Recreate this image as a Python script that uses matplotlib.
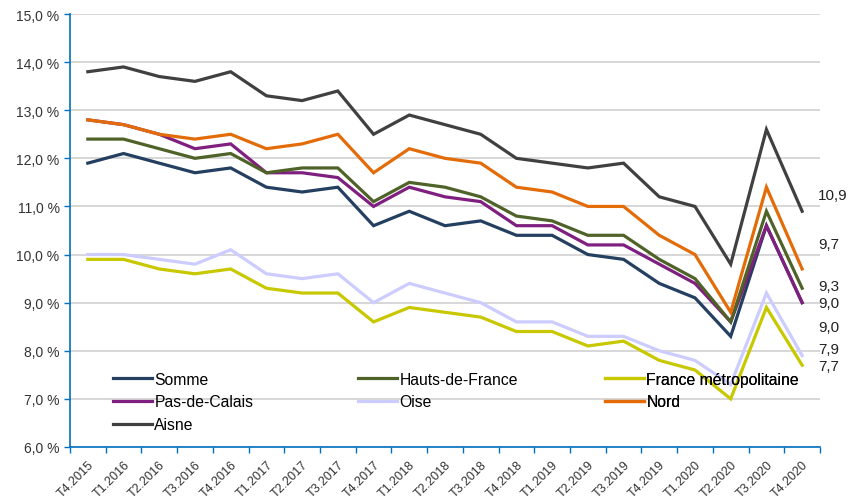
import matplotlib.pyplot as plt
import numpy as np

plt.rcParams['font.family'] = ['Liberation Sans', 'DejaVu Sans']

quarters = ['T4.2015',
            'T1.2016', 'T2.2016', 'T3.2016', 'T4.2016',
            'T1.2017', 'T2.2017', 'T3.2017', 'T4.2017',
            'T1.2018', 'T2.2018', 'T3.2018', 'T4.2018',
            'T1.2019', 'T2.2019', 'T3.2019', 'T4.2019',
            'T1.2020', 'T2.2020', 'T3.2020', 'T4.2020']

somme = [11.9, 12.1, 11.9, 11.7, 11.8, 11.4, 11.3, 11.4, 10.6, 10.9, 10.6,
         10.7, 10.4, 10.4, 10.0, 9.9, 9.4, 9.1, 8.3, 10.6, 9.0]
hdf = [12.4, 12.4, 12.2, 12.0, 12.1, 11.7, 11.8, 11.8, 11.1, 11.5, 11.4,
       11.2, 10.8, 10.7, 10.4, 10.4, 9.9, 9.5, 8.6, 10.9, 9.3]
france = [9.9, 9.9, 9.7, 9.6, 9.7, 9.3, 9.2, 9.2, 8.6, 8.9, 8.8,
          8.7, 8.4, 8.4, 8.1, 8.2, 7.8, 7.6, 7.0, 8.9, 7.7]
pdc = [12.8, 12.7, 12.5, 12.2, 12.3, 11.7, 11.7, 11.6, 11.0, 11.4, 11.2,
       11.1, 10.6, 10.6, 10.2, 10.2, 9.8, 9.4, 8.6, 10.6, 9.0]
oise = [10.0, 10.0, 9.9, 9.8, 10.1, 9.6, 9.5, 9.6, 9.0, 9.4, 9.2,
        9.0, 8.6, 8.6, 8.3, 8.3, 8.0, 7.8, 7.3, 9.2, 7.9]
nord = [12.8, 12.7, 12.5, 12.4, 12.5, 12.2, 12.3, 12.5, 11.7, 12.2, 12.0,
        11.9, 11.4, 11.3, 11.0, 11.0, 10.4, 10.0, 8.8, 11.4, 9.7]
aisne = [13.8, 13.9, 13.7, 13.6, 13.8, 13.3, 13.2, 13.4, 12.5, 12.9, 12.7,
         12.5, 12.0, 11.9, 11.8, 11.9, 11.2, 11.0, 9.8, 12.6, 10.9]

# (name, values, colour, end label pixel offset)
series = [
    ('Somme', somme, '#243f60', -24),
    ('Hauts-de-France', hdf, '#4f6228', 2),
    ('France métropolitaine', france, '#c8c800', -1),
    ('Pas-de-Calais', pdc, '#7f1f7f', 0),
    ('Oise', oise, '#ccccff', 7),
    ('Nord', nord, '#e36c09', 25),
    ('Aisne', aisne, '#404040', 16),
]

fig = plt.figure(figsize=(8.68, 5.02), dpi=100)
ax = fig.add_axes([0.0806, 0.1076, 0.8641, 0.8625])

x = np.arange(len(quarters))
lines = {}
# light lines first so the dark ones sit on top
for name, vals, col, off in [series[4], series[2], series[0], series[3],
                             series[1], series[5], series[6]]:
    lines[name], = ax.plot(x, vals, color=col, lw=2.3, solid_joinstyle='miter',
                           label=name, zorder=3)

for name, vals, col, off in series:
    ax.annotate(f'{vals[-1]:.1f}'.replace('.', ','), (x[-1], vals[-1]),
                xytext=(16, off), textcoords='offset pixels',
                ha='left', va='center', fontsize=11, color='#222222',
                annotation_clip=False)

ax.set_xlim(-0.5, len(quarters) - 0.5)
ax.set_ylim(6, 15)
ax.set_yticks(np.arange(6, 15.1, 1))
ax.set_yticklabels([f'{v:.1f} %'.replace('.', ',') for v in np.arange(6, 15.1, 1)],
                   fontsize=10, color='#333333')
ax.yaxis.grid(True, color='#d4d4d4', lw=1.3)
ax.set_axisbelow(True)

ax.set_xticks(x)
ax.set_xticklabels(quarters, rotation=45, ha='right', rotation_mode='anchor',
                   fontsize=9, color='#333333')
ax.set_xticks(np.arange(-0.5, len(quarters)), minor=True)
ax.tick_params(axis='x', which='major', length=0, pad=8)
ax.tick_params(axis='x', which='minor', length=4, color='#0070c0', width=1)
ax.tick_params(axis='y', length=4, color='#0070c0', width=1)

for s in ['top', 'right']:
    ax.spines[s].set_visible(False)
for s in ['left', 'bottom']:
    ax.spines[s].set_color('#0070c0')
    ax.spines[s].set_linewidth(1.2)

legend_cols = [
    (['Somme', 'Pas-de-Calais', 'Aisne'], 0.057),
    (['Hauts-de-France', 'Oise'], 0.384),
    (['France métropolitaine', 'Nord'], 0.713),
]
for names, xpos in legend_cols:
    leg = ax.legend([lines[n] for n in names], names, loc='upper left',
                    bbox_to_anchor=(xpos, 0.174), frameon=False, fontsize=11.3,
                    handlelength=2.5, handletextpad=0.15, labelspacing=0.5,
                    borderpad=0, borderaxespad=0)
    ax.add_artist(leg)

fig.savefig('out.png', dpi=100)
